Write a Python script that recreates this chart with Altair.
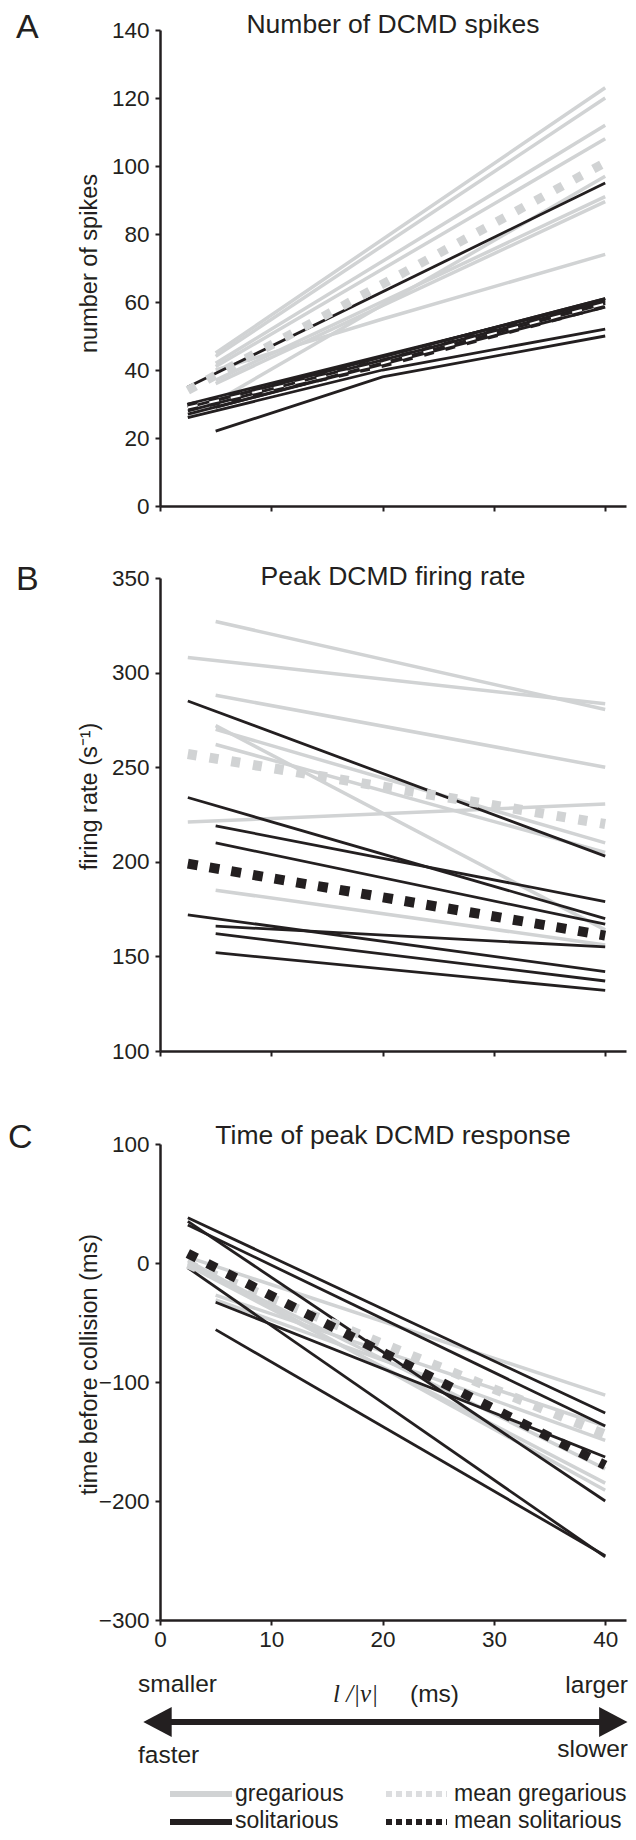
import altair as alt
import pandas as pd

GRAY = "#d1d3d4"
BLACK = "#231f20"
FONT = "Liberation Sans"

# ---------------- data ----------------
# Panel A: number of DCMD spikes
A_gre_x = [[5, 40], [5, 40], [5, 40], [5, 40], [5, 40], [5, 40], [2.5, 40], [5, 20, 40]]
A_gre_y = [[45, 123], [44, 120], [42, 112], [41, 108], [37, 91], [36, 89.5], [26, 97], [40, 55, 74]]
A_sol_x = [[2.5, 40], [2.5, 40], [2.5, 40], [2.5, 40], [5, 40], [2.5, 40], [5, 40],
           [2.5, 20, 40], [5, 20, 40]]
A_sol_y = [[35, 95], [29, 61], [28, 60], [27, 58.5], [29, 59.5], [30, 60.5], [31, 61],
           [26, 40, 52], [22, 38, 50]]
A_mgre_x = [2.5, 40]
A_mgre_y = [34, 101]
A_msol_x = [2.5, 20, 40]
A_msol_y = [29, 42, 59.5]

# Panel B: peak DCMD firing rate
B_gre_x = [[5, 40], [2.5, 40], [5, 40], [5, 40], [5, 40], [5, 40], [2.5, 40], [5, 40]]
B_gre_y = [[327, 280.5], [308, 283.5], [288, 250], [272, 164], [270, 210], [262, 205], [221, 230.5], [185, 156]]
B_sol_x = [[2.5, 40], [2.5, 40], [5, 40], [5, 40], [2.5, 40], [5, 40], [5, 40], [5, 40]]
B_sol_y = [[285, 203], [234, 170], [219, 179], [210, 167], [172, 142], [166, 155], [162, 137], [152, 132]]
B_mgre_x = [2.5, 40]
B_mgre_y = [257, 220]
B_msol_x = [2.5, 40]
B_msol_y = [199, 161]

# Panel C: time of peak DCMD response
C_gre_x = [[2.5, 40], [5, 40], [5, 40], [2.5, 40], [2.5, 40], [2.5, 40]]
C_gre_y = [[5, -111], [-27, -137], [-31, -149], [0, -173], [-2, -185], [2, -191]]
C_sol_x = [[2.5, 40], [2.5, 40], [2.5, 40], [2.5, 40], [5, 40], [5, 40]]
C_sol_y = [[38, -126], [32, -137], [35, -200], [-4, -247], [-33, -163], [-56, -246]]
C_mgre_x = [2.5, 40]
C_mgre_y = [-1, -144]
C_msol_x = [2.5, 40]
C_msol_y = [8, -170]

x_ticks = [0, 10, 20, 30, 40]
A_ticks = [0, 20, 40, 60, 80, 100, 120, 140]
B_ticks = [100, 150, 200, 250, 300, 350]
C_ticks = [-300, -200, -100, 0, 100]

titles = ["Number of DCMD spikes", "Peak DCMD firing rate", "Time of peak DCMD response"]
letters = ["A", "B", "C"]
ylabels = ["number of spikes", "firing rate (s\u207b\u00b9)", "time before collision (ms)"]
legend_labels = ["gregarious", "mean gregarious", "solitarious", "mean solitarious"]

ONE = pd.DataFrame({"k": [0]})


def lines_df(xs, ys, tag):
    rows = []
    for i, (xx, yy) in enumerate(zip(xs, ys)):
        for j, (a, b) in enumerate(zip(xx, yy)):
            rows.append({"id": f"{tag}{i}", "x": a, "y": b, "o": j})
    return pd.DataFrame(rows)


def text(t, x, y, size=24.5, align="left", font=FONT, style="normal"):
    return alt.Chart(ONE).mark_text(
        text=t, align=align, baseline="alphabetic", font=font, fontSize=size,
        fontStyle=style, color=BLACK
    ).encode(x=alt.value(x), y=alt.value(y))


def spacer(x, y):
    return alt.Chart(ONE).mark_rule(opacity=0, strokeWidth=0).encode(
        x=alt.value(x), x2=alt.value(x + 1), y=alt.value(y))


PX = 11.13          # pixels per x unit
W = 466
XMAX = W / PX


def panel(i, gx, gy, sx, sy, mgx, mgy, msx, msy, ydom, yticks, H, ytitle_y,
          xlabels, top, bottom, title_y, letter_x, letter_y, mw, extra=None, white=False):
    xs = alt.Scale(domain=[0, XMAX], nice=False, zero=False)
    ys = alt.Scale(domain=ydom, nice=False, zero=False)
    xax = alt.Axis(values=x_ticks, labels=xlabels, title=None, labelFlush=False,
                   labelPadding=3, grid=False)
    yax = alt.Axis(values=yticks, title=ylabels[i], titleX=-71, titleY=ytitle_y,
                   titleAlign="center", titleBaseline="middle", grid=False,
                   labelFlush=False)

    def enc():
        return dict(x=alt.X("x:Q", scale=xs, axis=xax),
                    y=alt.Y("y:Q", scale=ys, axis=yax),
                    detail="id:N", order="o:Q")

    gre = alt.Chart(lines_df(gx, gy, "g")).mark_line(color=GRAY, strokeWidth=3.5).encode(**enc())
    sol = alt.Chart(lines_df(sx, sy, "s")).mark_line(color=BLACK, strokeWidth=2.8).encode(**enc())
    mg = alt.Chart(lines_df([mgx], [mgy], "mg")).mark_line(
        color=GRAY, strokeWidth=mw, strokeDash=[9, 13]).encode(**enc())
    ms = alt.Chart(lines_df([msx], [msy], "ms")).mark_line(
        color=BLACK, strokeWidth=mw, strokeDash=[10, 12]).encode(**enc())
    layers = [gre, sol, mg, ms]
    if white:
        layers.append(alt.Chart(lines_df([msx], [msy], "mw")).mark_line(
            color="white", strokeWidth=2, strokeDash=[10, 12]).encode(**enc()))
    layers += [
        text(titles[i], 233, title_y, size=26.5, align="center"),
        text(letters[i], letter_x, letter_y, size=34),
        spacer(-152, -top),
        spacer(-152, H + bottom),
    ]
    if extra:
        layers += extra
    return alt.layer(*layers).properties(width=W, height=H)


HC = 476
# bottom annotation (inside panel C, below its x axis)
arrow_layers = [
    text("smaller", -22, 548),
    text("larger", 468, 549, align="right"),
    text("l /|v|", 218, 558, size=25, align="right", font="Liberation Serif", style="italic"),
    text("(ms)", 250, 558),
    alt.Chart(ONE).mark_rule(color=BLACK, strokeWidth=6).encode(
        x=alt.value(-5), x2=alt.value(455), y=alt.value(578)),
    alt.Chart(ONE).mark_point(shape="M 0.947 -1 L -0.947 0 L 0.947 1 Z", filled=True,
                              size=900, color=BLACK, opacity=1).encode(
        x=alt.value(-2.5), y=alt.value(578)),
    alt.Chart(ONE).mark_point(shape="M -0.947 -1 L 0.947 0 L -0.947 1 Z", filled=True,
                              size=900, color=BLACK, opacity=1).encode(
        x=alt.value(453.3), y=alt.value(578)),
    text("faster", -22, 619),
    text("slower", 468, 613, align="right"),
    # legend
    alt.Chart(ONE).mark_rule(color=GRAY, strokeWidth=6).encode(
        x=alt.value(10), x2=alt.value(72), y=alt.value(650)),
    alt.Chart(ONE).mark_rule(color="#dcdddf", strokeWidth=6, strokeDash=[6, 4]).encode(
        x=alt.value(226), x2=alt.value(287), y=alt.value(650)),
    alt.Chart(ONE).mark_rule(color=BLACK, strokeWidth=6).encode(
        x=alt.value(10), x2=alt.value(72), y=alt.value(678)),
    alt.Chart(ONE).mark_rule(color=BLACK, strokeWidth=6, strokeDash=[6, 4]).encode(
        x=alt.value(226), x2=alt.value(287), y=alt.value(678)),
    text(legend_labels[0], 75, 657, size=23),
    text(legend_labels[1], 294, 657, size=23),
    text(legend_labels[2], 75, 684, size=23),
    text(legend_labels[3], 294, 684, size=23),
]

pA = panel(0, A_gre_x, A_gre_y, A_sol_x, A_sol_y, A_mgre_x, A_mgre_y, A_msol_x, A_msol_y,
           [0, 140], A_ticks, 476, 233, False, 22, 36, 3, -144, 8, 9, white=True)
pB = panel(1, B_gre_x, B_gre_y, B_sol_x, B_sol_y, B_mgre_x, B_mgre_y, B_msol_x, B_msol_y,
           [100, 350], B_ticks, 473, 218, False, 36, 46, 7, -144, 12, 10)
pC = panel(2, C_gre_x, C_gre_y, C_sol_x, C_sol_y, C_mgre_x, C_mgre_y, C_msol_x, C_msol_y,
           [-300, 100], C_ticks, HC, 220, True, 47, 10, 0, -152, 4, 9.5, extra=arrow_layers)

chart = alt.vconcat(pA, pB, pC, spacing=0).properties(padding=0).configure_view(
    stroke=None
).configure_axis(
    domainColor=BLACK, domainWidth=2.5, tickColor=BLACK, tickWidth=2, tickSize=5,
    labelFont=FONT, labelFontSize=22.5, labelColor=BLACK, labelPadding=6,
    titleFont=FONT, titleFontSize=23.5, titleColor=BLACK, titleFontWeight="normal"
)

chart.save("out.html", embed_options={"renderer": "svg", "actions": False})
